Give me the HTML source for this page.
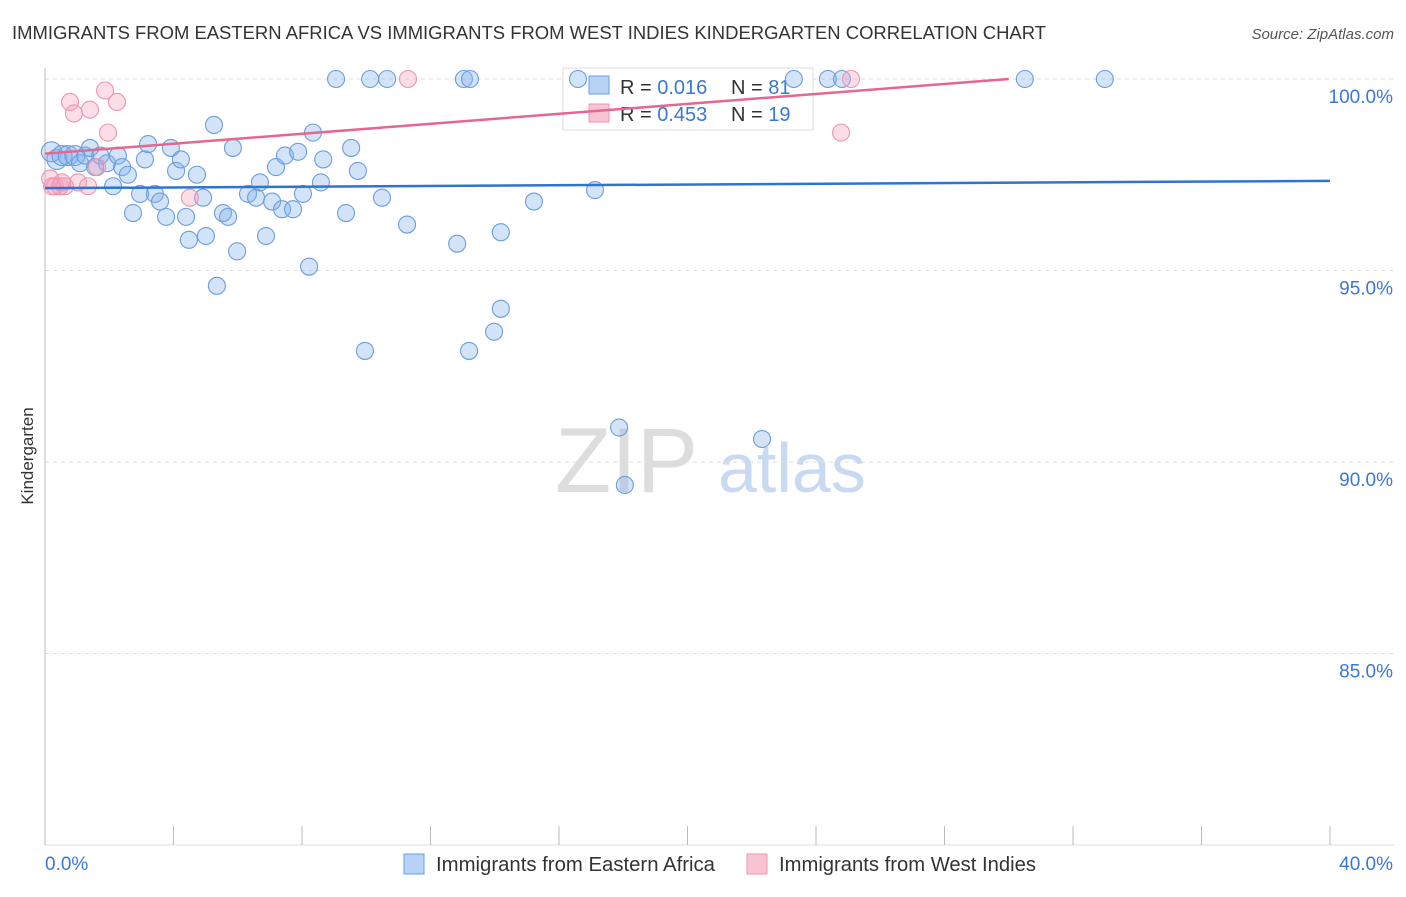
<!DOCTYPE html>
<html><head><meta charset="utf-8"><style>
body{margin:0;background:#fff;font-family:"Liberation Sans",sans-serif}
svg text{font-family:"Liberation Sans",sans-serif}
</style></head><body>
<svg id="c" width="1406" height="892">
<text x="12" y="39" font-size="18" fill="#333" textLength="1034" lengthAdjust="spacingAndGlyphs">IMMIGRANTS FROM EASTERN AFRICA VS IMMIGRANTS FROM WEST INDIES KINDERGARTEN CORRELATION CHART</text>
<text x="1394" y="39" font-size="15" fill="#555" font-style="italic" text-anchor="end">Source: ZipAtlas.com</text>
<text x="33" y="456" font-size="17" fill="#333" transform="rotate(-90 33 456)" text-anchor="middle">Kindergarten</text>
<text x="555" y="492" font-size="92" fill="#ddd" font-family="Liberation Serif">ZIP</text>
<text x="718" y="492" font-size="70" fill="#c8daf2">atlas</text>
<g id="grid"></g>
<g>
<rect x="563" y="68" width="250" height="62" fill="#fff" stroke="#ddd"/>
<rect x="589" y="76" width="20" height="18" fill="#b7d2f4" stroke="#6a9ee0"/>
<rect x="589" y="104" width="20" height="18" fill="#f8c3d2" stroke="#ee94ad"/>
<text x="620" y="94" font-size="20" fill="#333">R = <tspan fill="#3a78d4">0.016</tspan></text>
<text x="731" y="94" font-size="20" fill="#333">N = <tspan fill="#3a78d4">81</tspan></text>
<text x="620" y="121" font-size="20" fill="#333">R = <tspan fill="#3a78d4">0.453</tspan></text>
<text x="731" y="121" font-size="20" fill="#333">N = <tspan fill="#3a78d4">19</tspan></text>
</g>
<g id="pts"></g><g id="lines"></g>
<g>
<rect x="404" y="854" width="20" height="20" fill="#b7d2f4" stroke="#6a9ee0"/>
<text x="436" y="871" font-size="20" fill="#333" textLength="279" lengthAdjust="spacingAndGlyphs">Immigrants from Eastern Africa</text>
<rect x="747" y="854" width="20" height="20" fill="#f8c3d2" stroke="#ee94ad"/>
<text x="779" y="871" font-size="20" fill="#333" textLength="257" lengthAdjust="spacingAndGlyphs">Immigrants from West Indies</text>
</g>
</svg>
<script>
const yTicks=[100,95,90,85];
const xTickLabels=["0.0%","40.0%"];
const blueX=[0.2,0.37,0.53,0.72,0.93,1.09,1.25,1.40,1.56,1.72,1.93,2.12,2.27,2.40,2.58,2.74,2.96,3.11,3.21,3.42,3.58,3.77,3.92,4.08,4.23,4.39,4.48,4.73,4.92,5.01,5.26,5.35,5.54,5.70,5.85,5.98,6.32,6.57,6.69,6.88,7.07,7.19,7.38,7.47,7.72,7.88,8.03,8.22,8.34,8.59,8.66,9.06,9.37,9.53,9.74,9.96,10.12,10.65,10.49,11.27,12.83,13.04,13.23,13.20,13.98,14.19,14.19,15.22,16.59,17.12,17.87,18.05,22.32,23.31,24.37,24.81,30.50,32.99];
const blueY=[98.1,97.9,98.0,98.0,98.0,97.8,98.0,98.2,97.7,98.0,97.8,97.2,98.0,97.7,97.5,96.5,97.0,97.9,98.3,97.0,96.8,96.4,98.2,97.6,97.9,96.4,95.8,97.5,96.9,95.9,98.8,94.6,96.5,96.4,98.2,95.5,97.0,96.9,97.3,95.9,96.8,97.7,96.6,98.0,96.6,98.1,97.0,95.1,98.6,97.3,97.9,100,96.5,98.2,97.6,92.9,100,100,96.9,96.2,95.7,100,100,92.9,93.4,94.0,96.0,96.8,100,97.1,90.9,89.4,90.6,100,100,100,100,100];
const pinkX=[0.16,0.31,0.47,0.62,0.78,0.90,1.03,1.34,1.40,1.62,1.87,1.96,2.24,4.51,11.30,24.78,25.09,0.53,0.22];
const pinkY=[97.4,97.2,97.2,97.2,99.4,99.1,97.3,97.2,99.2,97.7,99.7,98.6,99.4,96.9,100,98.6,100,97.3,97.2];
const blueTrend=[97.15,97.34], pinkTrend=[98.05,100];
const NS="http://www.w3.org/2000/svg";
const X0=45,X1=1330,Y100=79,PPU=38.3;
const xs=v=>X0+v/40*(X1-X0), ys=v=>Y100+(100-v)*PPU;
function mk(t,a,p){const e=document.createElementNS(NS,t);for(const k in a)e.setAttribute(k,a[k]);p.appendChild(e);return e;}
const g=document.getElementById('grid');
yTicks.forEach((t,i)=>{
 const l=mk('line',{x1:X0,x2:1394,y1:ys(t),y2:ys(t),stroke:'#ddd','stroke-dasharray':'4 4'},g);
 
 
 const tx=mk('text',{x:1393,y:ys(t)+24,'font-size':19,fill:'#3a78d4','text-anchor':'end'},g);
 tx.textContent=t.toFixed(1)+'%';
 
 
});
const ax=mk('line',{x1:X0,x2:X0,y1:68,y2:845,stroke:'#bbb'},g);


const bx=mk('line',{x1:X0,x2:1394,y1:845,y2:845,stroke:'#ddd'},g);


for(let i=0;i<=10;i++){const tk=mk('line',{x1:xs(i*4),x2:xs(i*4),y1:826,y2:845,stroke:'#bbb'},g);
 
 }
xTickLabels.forEach((s,i)=>{const t=mk('text',{x:i?1393:45,y:870,'font-size':19,fill:'#3a78d4','text-anchor':i?'end':'start'},g);t.textContent=s;
 
 });
const P=document.getElementById('pts');
blueX.forEach((x,i)=>{const c=mk('circle',{cx:xs(x),cy:ys(blueY[i]),r:(x<1?10:8.5),fill:'rgba(130,175,235,0.35)',stroke:'#6a9ee0','stroke-width':1.1},P);
 
 });
pinkX.forEach((x,i)=>{const c=mk('circle',{cx:xs(x),cy:ys(pinkY[i]),r:8.5,fill:'rgba(245,160,185,0.35)',stroke:'#ee94ad','stroke-width':1.1},P);
 
 });
const L=document.getElementById('lines');
const b=mk('line',{x1:xs(0),y1:ys(blueTrend[0]),x2:xs(40),y2:ys(blueTrend[1]),stroke:'#2f74d0','stroke-width':2.5},L);


const p=mk('line',{x1:xs(0),y1:ys(pinkTrend[0]),x2:xs(30),y2:ys(pinkTrend[1]),stroke:'#e56690','stroke-width':2.5},L);


</script>
</body></html>
